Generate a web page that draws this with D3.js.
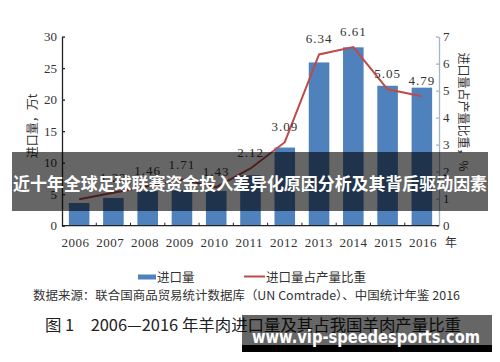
<!DOCTYPE html>
<html>
<head>
<meta charset="utf-8">
<script src="https://cdn.jsdelivr.net/npm/d3@7"></script>
<style>
  html, body { margin: 0; padding: 0; background: #fff; }
  svg { display: block; }
  .num { font-family: "Liberation Serif", "DejaVu Serif", serif; fill: #333; }
  .cjk { font-family: "Noto Sans CJK SC", sans-serif; fill: #333; }
</style>
</head>
<body>
<div id="chart"></div>
<script>
const years = ['2006', '2007', '2008', '2009', '2010', '2011', '2012', '2013', '2014', '2015', '2016'];
// 进口量, 万t
const importVolume = [3.6, 4.4, 5.5, 5.6, 5.5, 8.0, 12.4, 25.9, 28.3, 22.2, 21.9];
// 进口量占产量比重, %
const importShare = [0.98, 1.22, 1.46, 1.71, 1.43, 2.12, 3.09, 6.34, 6.61, 5.05, 4.79];
const shareLabels = [null, '1.22', '1.46', '1.71', '1.43', '2.12', '3.09', '6.34', '6.61', '5.05', '4.79'];
const leftTicks = [0, 5, 10, 15, 20, 25, 30];
const rightTicks = [0, 1, 2, 3, 4, 5, 6, 7];

const W = 500, H = 362;
const plotLeft = 62, plotRight = 439, plotBottom = 225.7, plotTop = 36.6;

const svg = d3.select('#chart').append('svg')
  .attr('width', W)
  .attr('height', H);

svg.append('rect').attr('width', W).attr('height', H).attr('fill', '#fff');

const x = d3.scaleBand().domain(years).range([plotLeft, plotRight]);
const xLabel = d3.scalePoint().domain(years).range([75.5, 423]);
const yL = d3.scaleLinear().domain([0, 30]).range([plotBottom, plotTop]);
const yR = d3.scaleLinear().domain([0, 7]).range([plotBottom, plotTop]);

const barW = x.bandwidth() * 0.6;
const cx = d => x(d) + x.bandwidth() / 2;

// bars
svg.append('g').selectAll('rect')
  .data(years)
  .enter()
  .append('rect')
  .attr('x', d => cx(d) - barW / 2)
  .attr('y', (d, i) => yL(importVolume[i]))
  .attr('width', barW)
  .attr('height', (d, i) => plotBottom - yL(importVolume[i]))
  .attr('fill', '#4f81bd');

// left axis
const gL = svg.append('g')
  .attr('transform', `translate(${plotLeft},0)`)
  .call(d3.axisLeft(yL).tickValues(leftTicks).tickFormat(d3.format('d'))
    .tickSizeInner(-3).tickSizeOuter(0).tickPadding(5));
gL.select('.domain').attr('stroke', '#222').attr('stroke-width', 1.3);
gL.selectAll('.tick line').attr('stroke', '#222').attr('stroke-width', 1.3);
gL.selectAll('.tick text').attr('class', 'num').style('font-size', '13px').attr('fill', '#444');

// right axis
const gR = svg.append('g')
  .attr('transform', `translate(${plotRight},0)`)
  .call(d3.axisRight(yR).tickValues(rightTicks).tickFormat(d3.format('d'))
    .tickSizeInner(-3).tickSizeOuter(0).tickPadding(4));
gR.select('.domain').attr('stroke', '#a3b5c9').attr('stroke-width', 1.3);
gR.selectAll('.tick line').attr('stroke', '#a3b5c9').attr('stroke-width', 1.3);
gR.selectAll('.tick text').attr('class', 'num').style('font-size', '13px').attr('fill', '#444');

// bottom axis
svg.append('line')
  .attr('x1', plotLeft).attr('x2', plotRight)
  .attr('y1', plotBottom).attr('y2', plotBottom)
  .attr('stroke', '#222').attr('stroke-width', 1.3);

svg.append('g').selectAll('line')
  .data(years.slice(1))
  .enter()
  .append('line')
  .attr('x1', d => x(d)).attr('x2', d => x(d))
  .attr('y1', plotBottom).attr('y2', plotBottom - 3)
  .attr('stroke', '#222').attr('stroke-width', 1);

svg.append('g').selectAll('text')
  .data(years)
  .enter()
  .append('text')
  .attr('class', 'num')
  .attr('x', d => xLabel(d))
  .attr('y', 247)
  .attr('text-anchor', 'middle')
  .style('font-size', '13px')
  .style('letter-spacing', '0.5px')
  .text(d => d);

svg.append('text')
  .attr('class', 'cjk')
  .attr('x', 451).attr('y', 247)
  .attr('text-anchor', 'middle')
  .style('font-size', '12px')
  .text('年');

// line
const line = d3.line()
  .x((d, i) => cx(years[i]))
  .y(d => yR(d));

svg.append('path')
  .datum(importShare)
  .attr('d', line)
  .attr('fill', 'none')
  .attr('stroke', '#be4b48')
  .attr('stroke-width', 2);

const labelData = years
  .map((yr, i) => ({ yr, v: importShare[i], label: shareLabels[i] }))
  .filter(d => d.label !== null);

svg.append('g').selectAll('text')
  .data(labelData)
  .enter()
  .append('text')
  .attr('class', 'num')
  .attr('x', d => cx(d.yr))
  .attr('y', d => yR(d.v) - 11)
  .attr('text-anchor', 'middle')
  .style('font-size', '13px')
  .style('letter-spacing', '1px')
  .text(d => d.label);

// axis titles
svg.append('text')
  .attr('class', 'cjk')
  .attr('transform', 'translate(37,126) rotate(-90)')
  .attr('text-anchor', 'middle')
  .style('font-size', '12px')
  .text('进口量，万t');

svg.append('text')
  .attr('class', 'cjk')
  .attr('transform', 'translate(459,112) rotate(90)')
  .attr('text-anchor', 'middle')
  .style('font-size', '12px')
  .text('进口量占产量比重，%');

// legend
svg.append('rect')
  .attr('x', 138).attr('y', 274.5).attr('width', 18).attr('height', 5)
  .attr('fill', '#4f81bd');
svg.append('text')
  .attr('class', 'cjk')
  .attr('x', 157).attr('y', 282)
  .style('font-size', '12.5px')
  .text('进口量');
svg.append('line')
  .attr('x1', 244).attr('x2', 265).attr('y1', 276.5).attr('y2', 276.5)
  .attr('stroke', '#be4b48').attr('stroke-width', 2);
svg.append('text')
  .attr('class', 'cjk')
  .attr('x', 266).attr('y', 282)
  .style('font-size', '12.5px')
  .text('进口量占产量比重');

// source and caption
svg.append('text')
  .attr('class', 'cjk')
  .attr('x', 33).attr('y', 299.5)
  .attr('textLength', 427).attr('lengthAdjust', 'spacingAndGlyphs')
  .style('font-size', '12px')
  .text('数据来源：联合国商品贸易统计数据库（UN Comtrade）、中国统计年鉴 2016');

svg.append('text')
  .attr('class', 'cjk')
  .attr('x', 45).attr('y', 331)
  .attr('textLength', 416).attr('lengthAdjust', 'spacingAndGlyphs')
  .style('font-size', '15.5px')
  .style('fill', '#222')
  .text('图 1　2006—2016 年羊肉进口量及其占我国羊肉产量比重');

// overlay banner
svg.append('rect')
  .attr('x', 12).attr('y', 152).attr('width', 476).attr('height', 59)
  .attr('fill', '#000').attr('fill-opacity', 0.6);
svg.append('text')
  .attr('x', 250).attr('y', 189.5)
  .attr('text-anchor', 'middle')
  .attr('textLength', 474).attr('lengthAdjust', 'spacingAndGlyphs')
  .style('font-family', '"Noto Sans CJK SC", sans-serif')
  .style('font-weight', 'bold')
  .style('font-size', '17.5px')
  .attr('fill', '#fff')
  .text('近十年全球足球联赛资金投入差异化原因分析及其背后驱动因素');

// watermark
svg.append('rect')
  .attr('x', 242).attr('y', 315).attr('width', 250).attr('height', 37)
  .attr('fill', '#000').attr('fill-opacity', 0.6);
svg.append('rect')
  .attr('x', 242).attr('y', 345).attr('width', 250).attr('height', 7)
  .attr('fill', '#000');
svg.append('text')
  .attr('x', 252).attr('y', 343)
  .attr('textLength', 228).attr('lengthAdjust', 'spacingAndGlyphs')
  .style('font-family', '"DejaVu Sans", sans-serif')
  .style('font-weight', 'bold')
  .style('font-size', '18px')
  .attr('fill', '#fff')
  .text('www.vip-speedesports.com');
</script>
</body>
</html>
